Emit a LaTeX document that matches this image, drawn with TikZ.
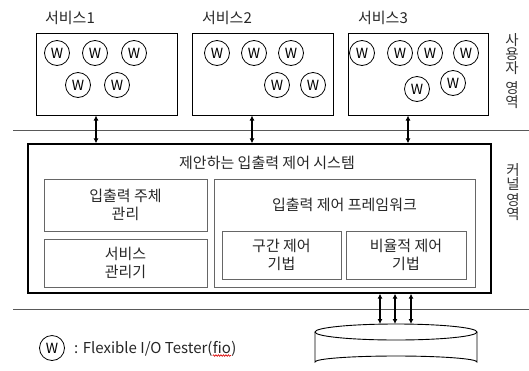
\documentclass[tikz,border=0pt]{standalone}
\usepackage{fontspec}
\setmainfont{Noto Sans CJK KR}
\usetikzlibrary{arrows.meta,decorations.pathmorphing}
\begin{document}
\begin{tikzpicture}[x=1pt,y=-1pt,
  wc/.style={circle, draw, line width=0.8pt, minimum size=25pt, inner sep=0pt, font=\fontsize{14}{14}\selectfont},
  svc/.style={draw, line width=1pt},
  mainbox/.style={draw, line width=1.3pt},
  inbox/.style={draw=black!60, line width=0.9pt, align=center, font=\fontsize{15}{18}\selectfont, text=black!85},
  txt/.style={font=\fontsize{15}{18}\selectfont, inner sep=0pt, text=black!85},
  sep/.style={draw=black!65, line width=0.8pt},
  arr/.style={{Latex[length=5pt,width=5pt]}-{Latex[length=5pt,width=5pt]}, line width=1.4pt},
  side/.style={font=\fontsize{14.5}{14}\selectfont, align=center, inner sep=0pt, text=black!80},
  leg/.style={font=\fontsize{15}{18}\selectfont, inner sep=0pt, text=black!85}
]
\useasboundingbox (0,0) rectangle (529,370);

% separators
\draw[sep] (13,130) -- (529,130);
\draw[sep] (13,309) -- (529,309);

% service boxes
\node[svc, minimum width=141, minimum height=82] (s1) at (106.5,74) {};
\node[svc, minimum width=141, minimum height=82] (s2) at (262.5,74) {};
\node[svc, minimum width=140, minimum height=82] (s3) at (418,74) {};
\node[txt] (l1) at (70,18) {서비스1};
\node[txt] (l2) at (227,18) {서비스2};
\node[txt] (l3) at (383,18) {서비스3};

% W circles box1
\node[wc] (w11) at (57,53) {W};
\node[wc] (w12) at (95,53) {W};
\node[wc] (w13) at (134,53) {W};
\node[wc] (w14) at (78,85) {W};
\node[wc] (w15) at (117,85) {W};
% box2
\node[wc] (w21) at (217,53) {W};
\node[wc] (w22) at (254,53) {W};
\node[wc] (w23) at (291,53) {W};
\node[wc] (w24) at (277,85) {W};
\node[wc] (w25) at (313,85) {W};
% box3
\node[wc] (w31) at (362,53) {W};
\node[wc] (w32) at (400,53) {W};
\node[wc] (w33) at (430,53) {W};
\node[wc] (w34) at (466,53) {W};
\node[wc] (w35) at (417,89) {W};
\node[wc] (w36) at (453,83) {W};

% main box
\node[mainbox, minimum width=463, minimum height=149] (m) at (259.5,218.5) {};
\node[txt] (mt) at (267,163) {제안하는 입출력 제어 시스템};
\node[inbox, minimum width=163, minimum height=52] (b1) at (125.5,205) {입출력 주체\\관리};
\node[inbox, minimum width=163, minimum height=48] (b2) at (125.5,263) {서비스\\관리기};
\node[inbox, minimum width=261, minimum height=108] (fw) at (344.5,233) {};
\node[txt] (fwt) at (344.5,205) {입출력 제어 프레임워크};
\node[inbox, minimum width=119, minimum height=48] (c1) at (281.5,255) {구간 제어\\기법};
\node[inbox, minimum width=120, minimum height=48] (c2) at (406,255) {비율적 제어\\기법};

% side labels
\node[side] (su) at (512,71) {사\\용\\자\\[6pt]영\\역};
\node[side] (sk) at (513,192) {커\\널\\[2pt]영\\역};

% arrows top
\coordinate (a1) at (96,0);
\coordinate (a2) at (252,0);
\coordinate (a3) at (408,0);
\draw[arr] (a1 |- s1.south) -- (a1 |- m.north);
\draw[arr] (a2 |- s2.south) -- (a2 |- m.north);
\draw[arr] (a3 |- s3.south) -- (a3 |- m.north);

% disk
\coordinate (cyl) at (396,324);
\draw[line width=0.9pt] (315,332) -- (315,362) arc[start angle=180, end angle=360, x radius=81, y radius=6] -- (477,332);
\draw[line width=0.9pt, fill=white] (396,332) ellipse[x radius=81, y radius=8];

% arrows bottom
\coordinate (d1) at (380,0);
\coordinate (d2) at (395,0);
\coordinate (d3) at (411,0);
\draw[arr] (d1 |- m.south) -- (d1 |- cyl);
\draw[arr] (d2 |- m.south) -- (d2 |- cyl);
\draw[arr] (d3 |- m.south) -- (d3 |- cyl);

% legend
\node[wc] (lw) at (52,348) {W};
\node[leg, anchor=base west] (lt) at (74,353) {: Flexible I/O Tester(};
\node[leg, anchor=base west] (lf) at (lt.base east) {fio};
\node[leg, anchor=base west] (lp) at (lf.base east) {)};
\draw[red!85!black, line width=0.6pt, decorate, decoration={snake, amplitude=0.8pt, segment length=2.5pt}] ([yshift=-2.5pt]lf.base west) -- ([yshift=-2.5pt]lf.base east);
\end{tikzpicture}
\end{document}
